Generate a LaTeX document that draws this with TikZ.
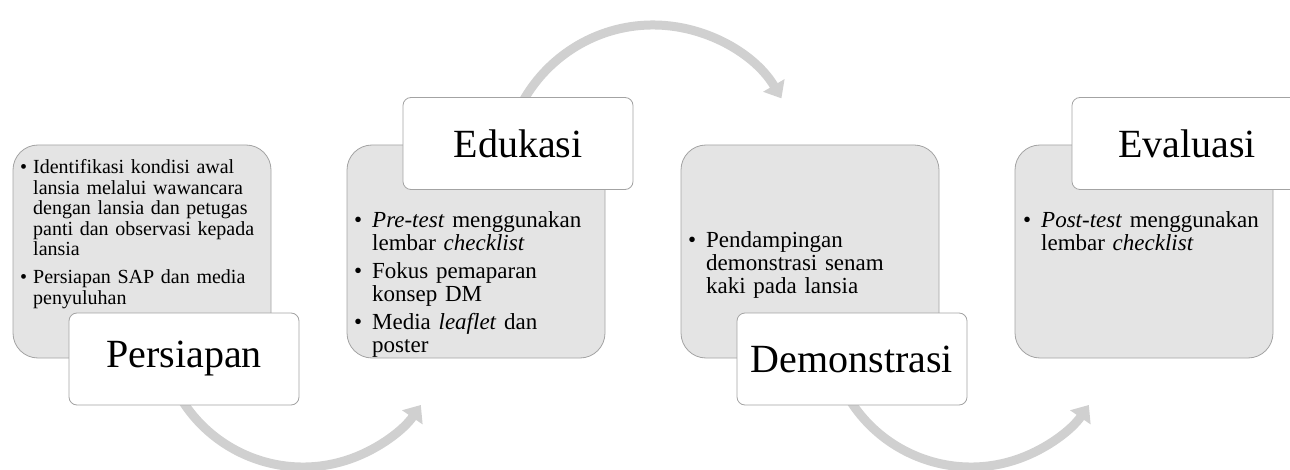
\documentclass[tikz,border=0pt]{standalone}
\usepackage{fontspec}
\setmainfont{Liberation Serif}
\usetikzlibrary{arrows.meta}
\definecolor{boxfill}{HTML}{E4E4E4}
\definecolor{boxline}{HTML}{A3A3A3}
\definecolor{arcgray}{HTML}{D0D0D0}
\newcommand{\bitem}[2][18pt]{\par\noindent\hangindent=#1\hangafter=1\makebox[#1][l]{\textbullet}#2\par}
\newcommand{\itemgap}[1][5pt]{\vspace{#1}}
\begin{document}
\begin{tikzpicture}[x=1pt,y=-1pt,
  flow/.style={draw=arcgray,line width=9pt,-{Triangle[width=24pt,length=15pt]}},
  gbox/.style={draw=boxline,fill=boxfill,line width=0.8pt,rounded corners=25pt,minimum width=258pt,minimum height=213pt,inner sep=0pt},
  lbl/.style={draw=boxline,fill=white,line width=0.8pt,rounded corners=8pt,minimum width=230pt,minimum height=92pt,inner sep=0pt,font=\fontsize{40}{41}\selectfont},
  txta/.style={anchor=north west,inner sep=0pt,text width=250pt,align=left,font=\fontsize{20}{20.5}\selectfont\setlength{\parskip}{0pt}},
  txtb/.style={anchor=north west,inner sep=0pt,text width=250pt,align=left,font=\fontsize{23}{23}\selectfont\setlength{\parskip}{0pt}}]
\useasboundingbox (0,0) rectangle (1290,470);
\clip (0,0) rectangle (1290,470);
% connectors (arcs)
\coordinate (a1) at (168.6,372.9);
\coordinate (a2) at (504.6,161.0);
\coordinate (a3) at (836.6,372.9);
\draw[flow] (a1) arc[start angle=160,end angle=34.5,radius=143];
\draw[flow] (a2) arc[start angle=185,end angle=329.5,radius=149];
\draw[flow] (a3) arc[start angle=160,end angle=34.5,radius=143];
% grey boxes
\node[gbox] (b1) at (142,251.5) {};
\node[gbox] (b2) at (476,251.5) {};
\node[gbox] (b3) at (810,251.5) {};
\node[gbox] (b4) at (1144,251.5) {};
% texts
\node[txta] (t1) at (20,153) {%
\bitem[13pt]{Identifikasi kondisi awal\newline lansia melalui wawancara\newline dengan lansia dan petugas\newline panti dan observasi kepada\newline lansia}\itemgap[7.5pt]
\bitem[13pt]{Persiapan SAP dan media\newline penyuluhan}};
\node[txtb] (t2) at (354,204) {%
\bitem{\textit{Pre-test} menggunakan\newline lembar \textit{checklist}}\itemgap
\bitem{Fokus pemaparan\newline konsep DM}\itemgap
\bitem{Media \textit{leaflet} dan\newline poster}};
\node[txtb] (t3) at (688,224) {%
\bitem{Pendampingan\newline demonstrasi senam\newline kaki pada lansia}};
\node[txtb] (t4) at (1023,204) {%
\bitem{\textit{Post-test} menggunakan\newline lembar \textit{checklist}}};
% labels
\node[lbl] (l1) at (184,359) {Persiapan};
\node[lbl] (l2) at (518,143.5) {Edukasi};
\node[lbl] (l3) at (852,359) {Demonstrasi};
\node[lbl] (l4) at (1187,143.5) {Evaluasi};
\end{tikzpicture}
\end{document}
